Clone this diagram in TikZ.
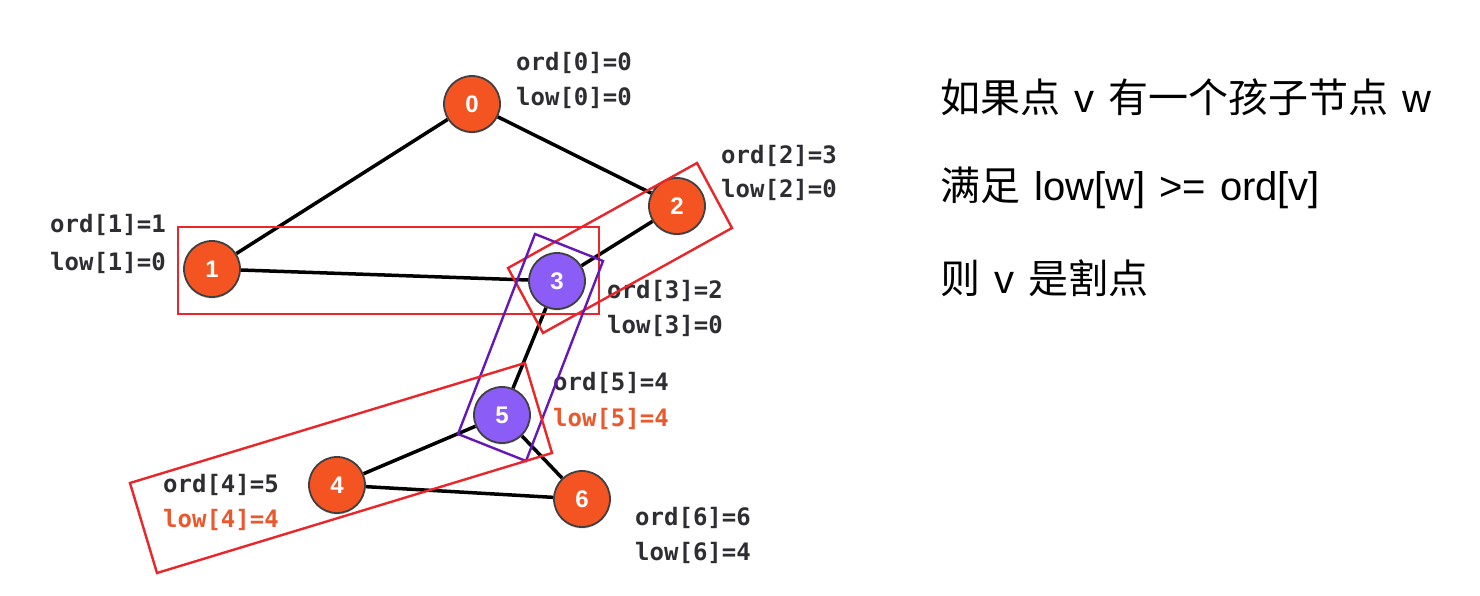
\documentclass[tikz,border=0pt]{standalone}
\usepackage{fontspec}
\usetikzlibrary{shadows,backgrounds}
\setmainfont{Liberation Sans}
\newfontfamily\monob{DejaVu Sans Mono}[BoldFont={DejaVu Sans Mono Bold}]
\newfontfamily\cjk{Noto Sans CJK SC}
\newfontfamily\numfont{Liberation Sans}
\newfontfamily\latf{Liberation Sans}
\definecolor{nodeorange}{RGB}{244,84,34}
\definecolor{nodepurple}{RGB}{140,92,246}
\definecolor{boxred}{RGB}{234,38,42}
\definecolor{boxpurple}{RGB}{102,24,182}
\definecolor{lblgray}{RGB}{45,45,50}
\definecolor{lblorange}{RGB}{234,88,45}
\newcommand{\zh}[1]{{\cjk\fontsize{40}{40}\selectfont #1}}
\newcommand{\gapx}{\hspace{14pt}}
\begin{document}
\begin{tikzpicture}[x=1pt,y=-1pt,
  vtx/.style={circle,minimum size=56pt,inner sep=0pt,draw=black!75,line width=1.8pt,
    text=white,font=\numfont\fontsize{24}{24}\selectfont\bfseries,
    drop shadow={shadow xshift=0pt,shadow yshift=-1.5pt,opacity=0.35}},
  vo/.style={vtx,fill=nodeorange},
  vp/.style={vtx,fill=nodepurple},
  edge/.style={line width=3.5pt,black},
  lbl/.style={anchor=west,inner sep=0pt,font=\monob\fontsize{24}{24}\selectfont\bfseries,text=lblgray},
  lblo/.style={lbl,text=lblorange},
  rbox/.style={draw=boxred,line width=2.4pt},
  pbox/.style={draw=boxpurple,line width=2.4pt},
  rtxt/.style={anchor=west,inner sep=0pt,font=\latf\fontsize{40}{40}\selectfont,text=black}]
\useasboundingbox (0,0) rectangle (1480,596);
% nodes
\node[vo] (n0) at (472,104) {0};
\node[vo] (n1) at (212,269) {1};
\node[vo] (n2) at (677,206) {2};
\node[vp] (n3) at (557,281) {3};
\node[vo] (n4) at (337,485) {4};
\node[vp] (n5) at (502,415) {5};
\node[vo] (n6) at (582,499) {6};
% edges
\begin{scope}[on background layer]
\fill[white] (0,0) rectangle (1480,596);
\draw[edge] (n0) -- (n1);
\draw[edge] (n0) -- (n2);
\draw[edge] (n1) -- (n3);
\draw[edge] (n2) -- (n3);
\draw[edge] (n3) -- (n5);
\draw[edge] (n5) -- (n4);
\draw[edge] (n5) -- (n6);
\draw[edge] (n4) -- (n6);
\end{scope}
% labels
\node[lbl] (o0) at (516,63) {ord[0]=0};
\node[lbl] (l0) at (516,98) {low[0]=0};
\node[lbl] (o2) at (721,156) {ord[2]=3};
\node[lbl] (l2) at (721,190) {low[2]=0};
\node[lbl] (o1) at (50,225) {ord[1]=1};
\node[lbl] (l1) at (50,263) {low[1]=0};
\node[lbl] (o3) at (607,291) {ord[3]=2};
\node[lbl] (l3) at (607,326) {low[3]=0};
\node[lbl] (o5) at (553,383) {ord[5]=4};
\node[lblo] (l5) at (553,419) {low[5]=4};
\node[lbl] (o4) at (163,485) {ord[4]=5};
\node[lblo] (l4) at (163,520) {low[4]=4};
\node[lbl] (o6) at (635,518) {ord[6]=6};
\node[lbl] (l6) at (635,553) {low[6]=4};
% boxes
\draw[rbox] (178,227) rectangle (599,314);
\draw[rbox] (508,268) -- (697,163) -- (732,228) -- (543,333) -- cycle;
\draw[pbox] (535,234) -- (603,261) -- (526,461) -- (458,434) -- cycle;
\draw[rbox] (130,483) -- (525,363) -- (552,453) -- (157,573) -- cycle;
% right text
\node[rtxt] (t1) at (940,97) {\zh{如果点}\gapx v\gapx\zh{有一个孩子节点}\gapx w};
\node[rtxt] (t2) at (940,188) {\zh{满足}\gapx low[w]\gapx>=\gapx ord[v]};
\node[rtxt] (t3) at (940,278) {\zh{则}\gapx v\gapx\zh{是割点}};
\end{tikzpicture}
\end{document}
